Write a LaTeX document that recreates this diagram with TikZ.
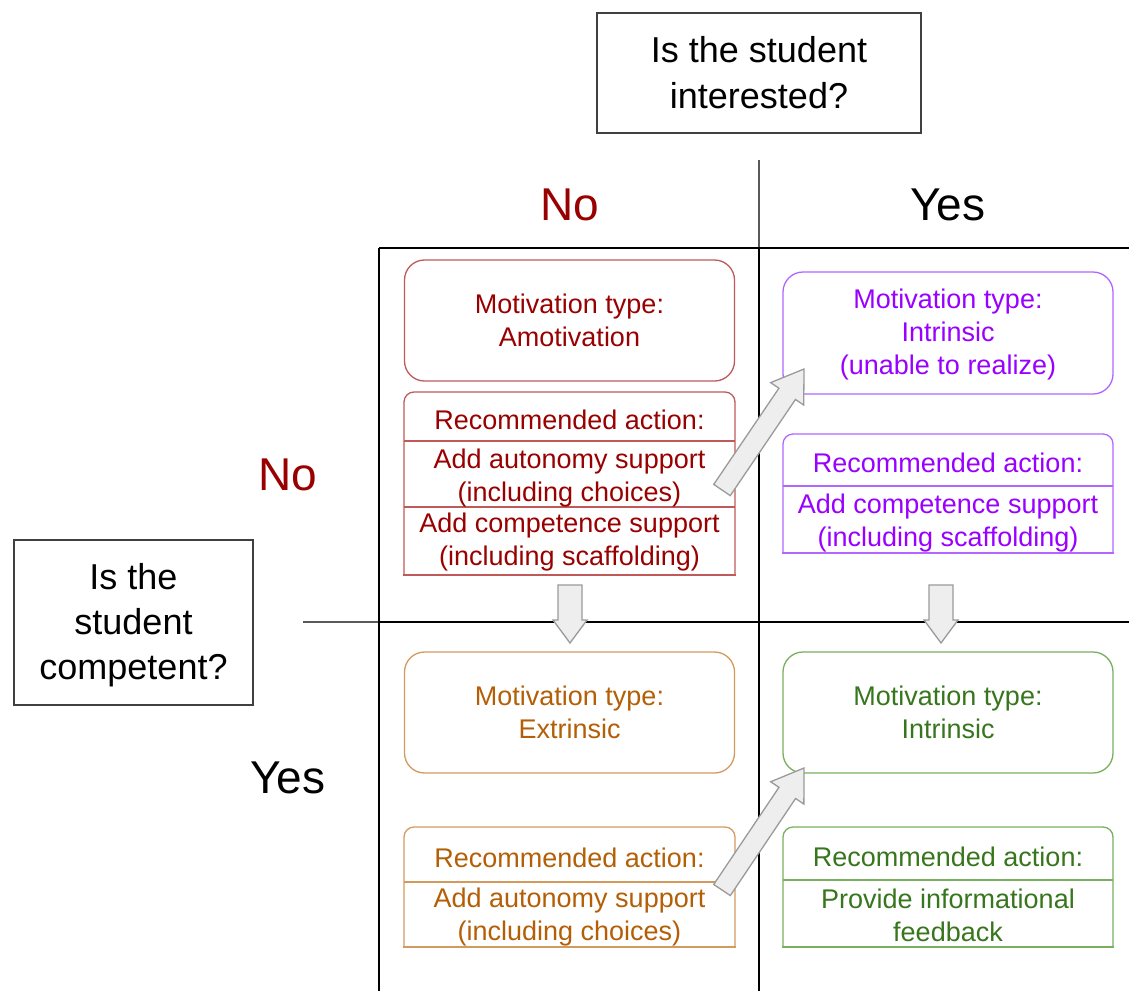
\documentclass[tikz,border=0pt]{standalone}
\usepackage{fontspec}
\setmainfont{Liberation Sans}
\usetikzlibrary{calc}
\definecolor{redt}{HTML}{990000}
\definecolor{redb}{HTML}{C05A5A}
\definecolor{purt}{HTML}{9900FF}
\definecolor{purb}{HTML}{B266FF}
\definecolor{orat}{HTML}{B45F06}
\definecolor{orab}{HTML}{D39A5E}
\definecolor{grnt}{HTML}{38761D}
\definecolor{grnb}{HTML}{78B060}
\definecolor{arrfill}{HTML}{EEEEEE}
\definecolor{arrdraw}{HTML}{9A9A9A}
\tikzset{
  mbox/.style={draw, line width=1.3pt, rounded corners=20pt, minimum width=330pt,
    minimum height=121pt, align=center, font=\fontsize{27}{33}\selectfont, inner sep=0pt},
  txt/.style={align=center, font=\fontsize{27}{33}\selectfont, inner sep=0pt},
  qbox/.style={draw=black!75, line width=1.3pt, align=center,
    font=\fontsize{36}{46}\selectfont, inner sep=0pt},
  bigtxt/.style={font=\fontsize{46}{50}\selectfont, inner sep=0pt},
  gridline/.style={line width=2.6pt, black},
  thinline/.style={line width=1.5pt, black!65},
  framestyle/.style={line width=1.3pt},
  arrowstyle/.style={fill=arrfill, draw=arrdraw, line width=1.3pt, line join=miter},
}
% block arrow: tail, tip, half shaft, half head, head length
\newcommand\blkarrow[5]{%
  \coordinate (#1-h) at ($(#2)!#5!(#1)$);
  \filldraw[arrowstyle] ($(#1)!#3!90:(#2)$) -- ($(#1-h)!#3!90:(#2)$) -- ($(#1-h)!#4!90:(#2)$)
    -- (#2) -- ($(#1-h)!#4!-90:(#2)$) -- ($(#1-h)!#3!-90:(#2)$) -- ($(#1)!#3!-90:(#2)$) -- cycle;
}
% action frame: colour, x1, x2, ytop, ybottom
\newcommand\actframe[5]{%
  \draw[framestyle, draw=#1, rounded corners=10pt] (#2,#5) -- (#2,#4) -- (#3,#4) -- (#3,#5);
  \draw[framestyle, draw=#1, line cap=rect] (#2,#5) -- (#3,#5);
}
\begin{document}
\begin{tikzpicture}[x=1pt, y=-1pt]
\useasboundingbox (0,0) rectangle (1129,991);
\fill[white] (0,0) rectangle (1129,991);

% grid
\draw[thinline] (759,160) -- (759,248);
\draw[thinline] (303,622) -- (379,622);
\draw[gridline] (379,248) -- (1129,248);
\draw[gridline] (379,248) -- (379,991);
\draw[gridline] (759,248) -- (759,991);
\draw[gridline] (379,622) -- (1129,622);

% questions
\node[qbox, minimum width=324pt, minimum height=120pt] (qi) at (759,73) {Is the student\\interested?};
\node[qbox, minimum width=239pt, minimum height=165pt] (qc) at (133.5,622.5) {};
\node[align=center, font=\fontsize{36}{45}\selectfont, inner sep=0pt] (qct) at (133.5,625) {Is the\\student\\competent?};

% headings
\node[bigtxt, text=redt] (hno) at (570,205) {No};
\node[bigtxt] (hyes) at (948,205) {Yes};
\node[bigtxt, text=redt] (vno) at (288,475) {No};
\node[bigtxt] (vyes) at (288,778) {Yes};

% motivation boxes
\node[mbox, draw=redb, text=redt] (m1) at (569.5,320.5) {Motivation type:\\Amotivation};
\node[mbox, draw=purb, text=purt, minimum height=122pt] (m2) at (948,333) {};
\node[txt, text=purt] (m2t) at (948,335) {Motivation type:\\Intrinsic\\(unable to realize)};
\node[mbox, draw=orab, text=orat] (m3) at (569.5,712.5) {Motivation type:\\Extrinsic};
\node[mbox, draw=grnb, text=grnt] (m4) at (948,712.5) {Motivation type:\\Intrinsic};

% action box 1 (red)
\actframe{redb}{404}{735}{392}{575}
\draw[framestyle, draw=redb] (404,441) -- (735,441);
\draw[framestyle, draw=redb] (404,507) -- (735,507);
\node[txt, text=redt] (a1h) at (569.5,420) {Recommended action:};
\node[txt, text=redt] (a1b) at (569.5,478) {Add autonomy support\\(including choices)};
\node[txt, text=redt] (a1c) at (569.5,542) {Add competence support\\(including scaffolding)};

% action box 2 (purple)
\actframe{purb}{783}{1113}{434}{553}
\draw[framestyle, draw=purb] (783,486) -- (1113,486);
\node[txt, text=purt] (a2h) at (948,463) {Recommended action:};
\node[txt, text=purt] (a2b) at (948,523) {Add competence support\\(including scaffolding)};

% action box 3 (orange)
\actframe{orab}{404}{735}{827}{947}
\draw[framestyle, draw=orab] (404,882) -- (735,882);
\node[txt, text=orat] (a3h) at (569.5,858) {Recommended action:};
\node[txt, text=orat] (a3b) at (569.5,917) {Add autonomy support\\(including choices)};

% action box 4 (green)
\actframe{grnb}{783}{1113}{827}{947}
\draw[framestyle, draw=grnb] (783,880) -- (1113,880);
\node[txt, text=grnt] (a4h) at (948,857) {Recommended action:};
\node[txt, text=grnt] (a4b) at (948,915) {Provide informational\\feedback};

% arrows
\coordinate (d1t) at (570,585);
\coordinate (d1p) at (570,643);
\coordinate (d2t) at (941,585);
\coordinate (d2p) at (941,643);
\coordinate (g1t) at (722,490);
\coordinate (g1p) at (804,369);
\coordinate (g2t) at (722,890);
\coordinate (g2p) at (804,768);
\blkarrow{d1t}{d1p}{12pt}{17pt}{23pt}
\blkarrow{d2t}{d2p}{12pt}{17pt}{23pt}
\blkarrow{g1t}{g1p}{10pt}{20pt}{30pt}
\blkarrow{g2t}{g2p}{10pt}{20pt}{30pt}
\end{tikzpicture}
\end{document}
